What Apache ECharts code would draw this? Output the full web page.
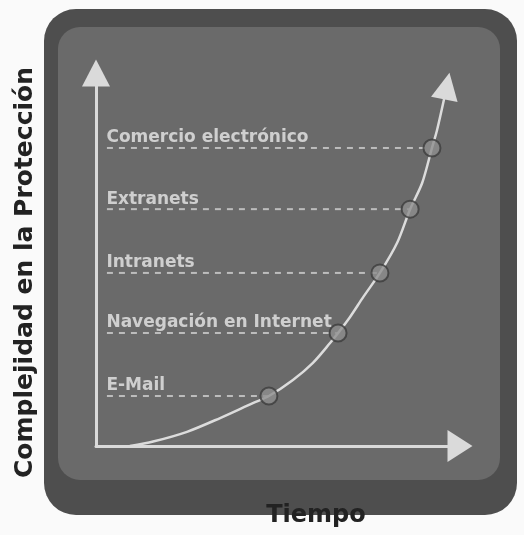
<!DOCTYPE html>
<html>
<head>
<meta charset="utf-8">
<script src="https://cdn.jsdelivr.net/npm/echarts@6/dist/echarts.min.js"></script>
<style>
html,body{margin:0;padding:0;background:#fafafa;}
#chart{width:524px;height:535px;}
</style>
</head>
<body>
<div id="chart"></div>
<script>
// Stages (categories) and their position on the curve (time, protection complexity)
const categories = ['E-Mail', 'Navegación en Internet', 'Intranets', 'Extranets', 'Comercio electrónico'];
const timeValues = [47.5, 66.5, 78.0, 86.3, 92.3];
const complexityValues = [13.4, 30.3, 46.4, 63.5, 79.9];
// Growth curve traced through the picture (time, complexity)
const curveTime = [9.3, 15.7, 25.0, 34.1, 43.1, 47.5, 54.1, 59.6, 64.3, 66.5, 69.8, 73.4, 78.0, 82.7, 86.3, 89.6, 92.3, 93.7, 96.4];
const curveComplexity = [0, 1.2, 3.8, 7.5, 11.5, 13.4, 17.7, 22.3, 27.6, 30.3, 34.6, 39.9, 46.4, 54.4, 63.5, 70.5, 79.9, 84.7, 96.5];
// Where the dashed guides and their labels start on the time axis
const guideStart = 3;
const xTitle = 'Tiempo';
const yTitle = 'Complejidad en la Protección';

const chart = echarts.init(document.getElementById('chart'), null, {renderer: 'canvas'});

const axisColor = '#dadada';
const curveData = curveTime.map((t, i) => {
  const v = [t, curveComplexity[i]];
  if (i === curveTime.length - 1) {
    return {value: v, symbol: 'triangle', symbolSize: [27, 27], symbolRotate: -11,
            itemStyle: {color: axisColor}};
  }
  return {value: v, symbol: 'none'};
});

const guideSeries = categories.map((name, i) => ({
  type: 'line',
  name: name,
  data: [[guideStart, complexityValues[i]], [timeValues[i], complexityValues[i]]],
  symbol: 'none',
  lineStyle: {color: '#bdbdbd', width: 2, type: [6, 6]},
  z: 3,
  silent: true
}));

const option = {
  animation: false,
  graphic: [
    {type: 'rect', z: -10, shape: {x: 44, y: 9, width: 473, height: 506, r: 32},
     style: {fill: '#4e4e4e'}},
    {type: 'rect', z: -9, shape: {x: 58, y: 27, width: 442, height: 453, r: 22},
     style: {fill: '#6a6a6a'}}
  ],
  grid: {left: 96, right: 64, top: 73, bottom: 89},
  xAxis: {
    type: 'value', min: 0, max: 100,
    name: xTitle, nameLocation: 'middle', nameGap: 58,
    nameTextStyle: {fontFamily: 'DejaVu Sans', fontWeight: 'bold', fontSize: 24, color: '#222222',
                    padding: [0, 0, 0, 76]},
    axisLine: {show: true, symbol: ['none', 'triangle'], symbolSize: [32, 25],
               lineStyle: {color: axisColor, width: 3}},
    axisTick: {show: false}, axisLabel: {show: false}, splitLine: {show: false}
  },
  yAxis: {
    type: 'value', min: 0, max: 100,
    name: yTitle, nameLocation: 'middle', nameGap: 58, nameRotate: 90,
    nameTextStyle: {fontFamily: 'DejaVu Sans', fontWeight: 'bold', fontSize: 25, color: '#222222',
                    padding: [0, 26, 0, 0]},
    axisLine: {show: true, symbol: ['none', 'triangle'], symbolSize: [28, 27],
               lineStyle: {color: axisColor, width: 3}},
    axisTick: {show: false}, axisLabel: {show: false}, splitLine: {show: false}
  },
  series: [
    ...guideSeries,
    {
      type: 'line', name: 'curve', data: curveData, smooth: 0.3,
      showSymbol: true, symbol: 'none',
      lineStyle: {color: '#dcdcdc', width: 2.5}, z: 4, silent: true
    },
    {
      type: 'scatter', name: 'stages',
      data: timeValues.map((t, i) => [t, complexityValues[i]]),
      symbol: 'circle', symbolSize: 17,
      itemStyle: {color: '#8e8e8e', borderColor: '#3c3c3c', borderWidth: 2},
      z: 6, silent: true
    },
    {
      type: 'scatter', name: 'labels',
      data: categories.map((c, i) => ({value: [guideStart, complexityValues[i]], name: c})),
      symbol: 'circle', symbolSize: 1, itemStyle: {color: 'transparent'},
      label: {show: true, formatter: p => p.name, position: [0, 0], align: 'left',
              verticalAlign: 'bottom', offset: [0, -1],
              fontFamily: 'DejaVu Sans', fontWeight: 'bold', fontSize: 17, color: '#e8e8e8'},
      z: 7, silent: true
    }
  ]
};
chart.setOption(option);
</script>
</body>
</html>
